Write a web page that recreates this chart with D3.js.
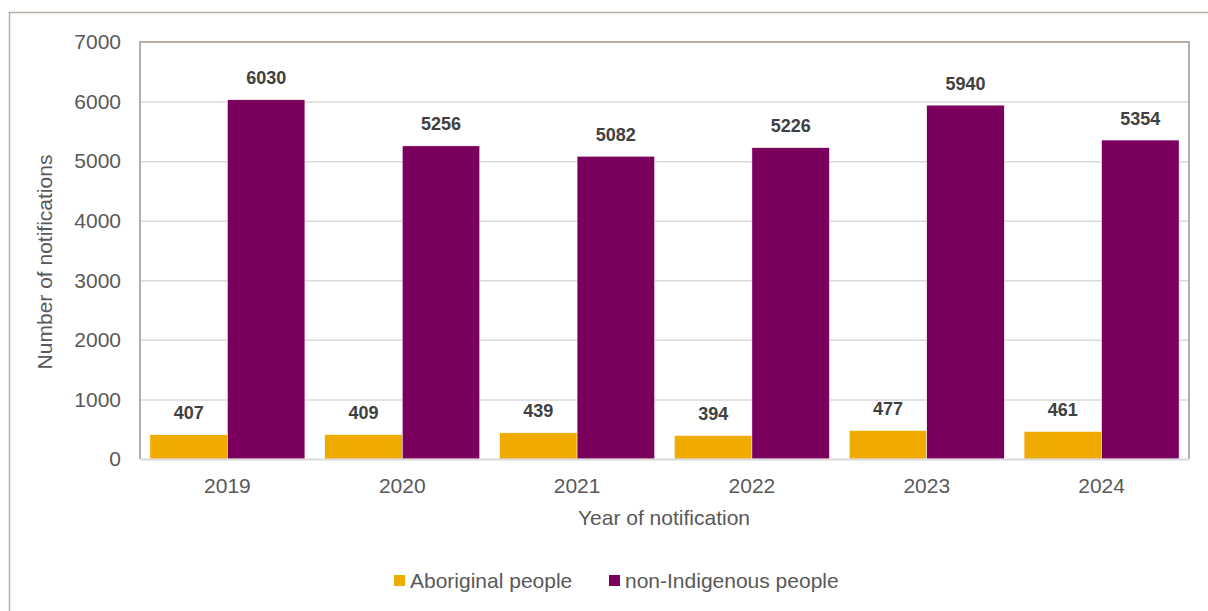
<!DOCTYPE html>
<html>
<head>
<meta charset="utf-8">
<script src="https://cdn.jsdelivr.net/npm/d3@7"></script>
<style>
  html, body { margin: 0; padding: 0; background: #fff; }
  svg { display: block; font-family: "Liberation Sans", Arial, sans-serif; }
</style>
</head>
<body>
<svg id="chart" width="1208" height="611"></svg>
<script>
// Notifications by year and Aboriginal status
const years = ["2019", "2020", "2021", "2022", "2023", "2024"];
const aboriginal = [407, 409, 439, 394, 477, 461];
const nonIndigenous = [6030, 5256, 5082, 5226, 5940, 5354];
const seriesNames = ["Aboriginal people", "non-Indigenous people"];
const seriesColors = ["#F0AB00", "#7B005E"];
const yTicks = [0, 1000, 2000, 3000, 4000, 5000, 6000, 7000];

const svg = d3.select("#chart");
const plot = { left: 140, top: 42, right: 1189, bottom: 459 };
const textColor = "#595959";

// Outer frame (left and top edges visible)
svg.append("path")
  .attr("d", `M9.5,611 V12.5 H1208`)
  .attr("fill", "none").attr("stroke", "#b8ada4").attr("stroke-width", 1.5);

const x = d3.scaleBand().domain(years).range([plot.left, plot.right]).paddingInner(0).paddingOuter(0);
const xs = d3.scaleBand().domain(seriesNames).range([0, x.bandwidth()]).paddingInner(0).paddingOuter(0.128);
const y = d3.scaleLinear().domain([0, 7000]).range([plot.bottom, plot.top]);

// Gridlines
svg.append("g").selectAll("line").data(yTicks.filter(d => d > 0 && d < 7000)).join("line")
  .attr("x1", plot.left).attr("x2", plot.right)
  .attr("y1", d => y(d) + 0.5).attr("y2", d => y(d) + 0.5)
  .attr("stroke", "#d9d9d9").attr("stroke-width", 1.5);

// Bars
const data = years.map((yr, i) => ({ year: yr, values: [aboriginal[i], nonIndigenous[i]] }));
const groups = svg.append("g").selectAll("g").data(data).join("g")
  .attr("transform", d => `translate(${x(d.year)},0)`);

groups.selectAll("rect").data(d => d.values.map((v, k) => ({ v, k }))).join("rect")
  .attr("x", d => xs(seriesNames[d.k]))
  .attr("width", xs.bandwidth())
  .attr("y", d => y(d.v))
  .attr("height", d => y(0) - y(d.v))
  .attr("fill", d => seriesColors[d.k])
  .attr("stroke", "#ffffff").attr("stroke-width", 0.5);

// Value labels
groups.selectAll("text").data(d => d.values.map((v, k) => ({ v, k }))).join("text")
  .attr("x", d => xs(seriesNames[d.k]) + xs.bandwidth() / 2)
  .attr("y", d => y(d.v) - 15.5)
  .attr("text-anchor", "middle")
  .attr("font-size", 18).attr("font-weight", "bold").attr("fill", "#404040")
  .text(d => d.v);

// Plot frame: left, top, right
svg.append("path")
  .attr("d", `M${plot.left},${plot.bottom} V${plot.top} H${plot.right} V${plot.bottom}`)
  .attr("fill", "none").attr("stroke", "#b8ada4").attr("stroke-width", 2);

// Horizontal axis line
svg.append("line")
  .attr("x1", plot.left).attr("x2", plot.right)
  .attr("y1", plot.bottom + 0.5).attr("y2", plot.bottom + 0.5)
  .attr("stroke", "#d9d9d9").attr("stroke-width", 2);

// Y axis tick labels
const yAxis = d3.axisLeft(y).tickValues(yTicks).tickSize(0).tickPadding(19).tickFormat(d3.format("d"));
const gy = svg.append("g").attr("transform", `translate(${plot.left},0)`).call(yAxis);
gy.select(".domain").remove();
gy.selectAll("text").attr("font-size", 21).attr("fill", textColor)
  .attr("font-family", "Liberation Sans, Arial, sans-serif");

// X axis tick labels
const xAxis = d3.axisBottom(x).tickSize(0).tickPadding(19);
const gx = svg.append("g").attr("transform", `translate(0,${plot.bottom})`).call(xAxis);
gx.select(".domain").remove();
gx.selectAll("text").attr("font-size", 21).attr("fill", textColor)
  .attr("font-family", "Liberation Sans, Arial, sans-serif");

// Axis titles
svg.append("text")
  .attr("x", 664).attr("y", 524.5)
  .attr("text-anchor", "middle").attr("font-size", 21).attr("fill", textColor)
  .text("Year of notification");

svg.append("text")
  .attr("transform", `translate(52,262) rotate(-90)`)
  .attr("text-anchor", "middle").attr("font-size", 21).attr("fill", textColor)
  .text("Number of notifications");

// Legend
const legendX = [394, 609];
const legend = svg.append("g").selectAll("g").data(seriesNames).join("g")
  .attr("transform", (d, i) => `translate(${legendX[i]},575)`);
legend.append("rect").attr("width", 11).attr("height", 11)
  .attr("fill", (d, i) => seriesColors[i]);
legend.append("text").attr("x", 16).attr("y", 13)
  .attr("font-size", 21).attr("fill", textColor).text(d => d);
</script>
</body>
</html>
